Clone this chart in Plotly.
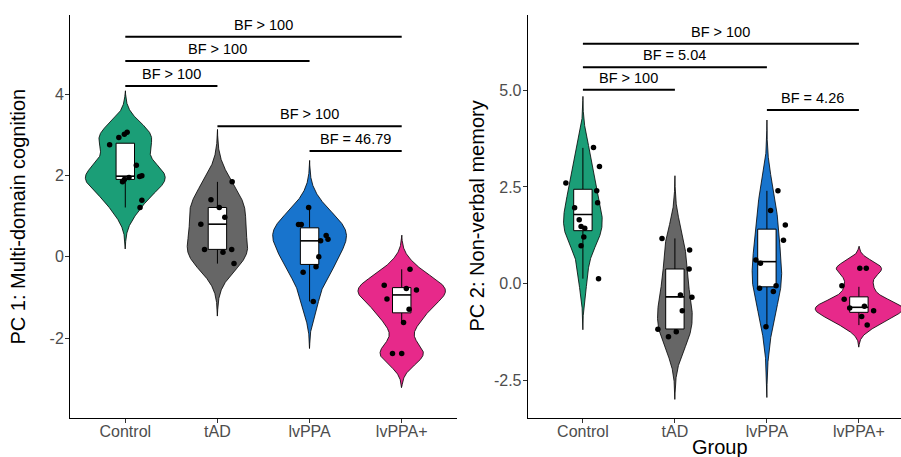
import numpy as np
import plotly.graph_objects as go

groups = ["Control", "tAD", "lvPPA", "lvPPA+"]
group_pos = [1, 2, 3, 4]
group_colors = ["#1B9E77", "#666666", "#1874CD", "#E7298A"]

# ---------------- PC 1: Multi-domain cognition ----------------
pc1_control = [2.75, 2.93, 3.01, 3.06, 2.25, 1.99, 1.97, 1.95, 1.90, 1.84, 1.39, 1.21]
pc1_tad = [1.84, 1.40, 1.21, 0.97, 0.80, 0.18, 0.11, 0.18, -0.17]
pc1_lvppa = [1.21, 0.79, 0.79, 0.52, 0.43, 0.39, 0.00, -0.25, -0.38, -1.10]
pc1_lvppa_plus = [-0.31, -0.70, -0.78, -0.82, -1.04, -1.29, -1.62, -2.38, -2.38]

pc1_control_jit = [-0.17, -0.07, -0.01, 0.02, 0.12, 0.18, 0.155, 0.04, -0.01, -0.03, 0.18, 0.16]
pc1_tad_jit = [0.16, -0.07, 0.02, 0.08, -0.18, -0.14, 0.06, 0.155, 0.18]
pc1_lvppa_jit = [-0.01, -0.12, -0.09, 0.18, 0.20, 0.12, 0.10, 0.07, -0.07, 0.04]
pc1_lvppa_plus_jit = [0.09, -0.19, 0.05, 0.16, -0.16, 0.08, 0.02, -0.10, 0.0]

pc1_box_low = [1.21, -0.17, -1.10, -1.62]
pc1_box_q1 = [1.90, 0.18, -0.19, -1.38]
pc1_box_med = [1.98, 0.80, 0.39, -0.94]
pc1_box_q3 = [2.79, 1.21, 0.71, -0.76]
pc1_box_high = [2.79, 1.84, 1.21, -0.31]

pc1_bw = [0.34, 0.43, 0.386, 0.28]

pc1_comp_from = [1, 1, 1, 2, 3]
pc1_comp_to = [2, 3, 4, 4, 4]
pc1_comp_y = [4.20, 4.81, 5.41, 3.21, 2.60]
pc1_comp_label = ["BF > 100", "BF > 100", "BF > 100", "BF > 100", "BF = 46.79"]

# ---------------- PC 2: Non-verbal memory ----------------
pc2_control = [3.52, 3.03, 2.60, 2.40, 2.09, 1.96, 1.65, 1.48, 1.43, 1.21, 0.98, 0.13]
pc2_tad = [1.17, 0.87, 0.38, -0.29, -0.35, -0.70, -1.18, -1.37, -1.24]
pc2_lvppa = [2.40, 1.89, 1.52, 1.12, 0.61, 0.53, -0.12, -0.20, -0.05, -1.11]
pc2_lvppa_plus = [0.40, 0.40, -0.05, -0.40, -0.63, -0.58, -0.70, -0.85, -1.07]

pc2_control_jit = [0.115, 0.18, -0.185, 0.15, 0.16, -0.09, -0.04, -0.02, 0.02, 0.01, -0.02, 0.17]
pc2_tad_jit = [-0.14, 0.16, 0.155, 0.06, 0.185, 0.08, -0.185, -0.07, 0.015]
pc2_lvppa_jit = [0.12, 0.04, 0.20, 0.18, -0.12, -0.07, -0.08, 0.07, 0.10, -0.01]
pc2_lvppa_plus_jit = [0.01, 0.08, -0.185, -0.16, -0.10, 0.06, 0.16, 0.03, 0.09]

pc2_box_low = [0.13, -1.30, -1.11, -1.07]
pc2_box_q1 = [1.37, -1.17, -0.08, -0.74]
pc2_box_med = [1.79, -0.34, 0.57, -0.61]
pc2_box_q3 = [2.44, 0.38, 1.41, -0.34]
pc2_box_high = [3.51, 1.17, 2.40, -0.08]

pc2_bw = [0.44, 0.54, 0.61, 0.19]

pc2_comp_from = [1, 1, 1, 3]
pc2_comp_to = [2, 3, 4, 4]
pc2_comp_y = [5.01, 5.59, 6.20, 4.49]
pc2_comp_label = ["BF > 100", "BF = 5.04", "BF > 100", "BF = 4.26"]

FONT = "Liberation Sans, Arial, Helvetica, sans-serif"
W, H = 901, 457
VIOLIN_WIDTH = 0.95
BOX_WIDTH = 0.2

fig = go.Figure()


def kde(vals, bw, n=512):
    v = np.asarray(vals, dtype=float)
    grid = np.linspace(v.min() - 3 * bw, v.max() + 3 * bw, n)
    z = (grid[:, None] - v[None, :]) / bw
    dens = np.exp(-0.5 * z ** 2).sum(axis=1) / (len(v) * bw * np.sqrt(2 * np.pi))
    return grid, dens


def add_panel(values, jitters, bws, box_stats, comps, xa, ya):
    low, q1, med, q3, high = box_stats
    dens_list = [kde(vals, bw) for vals, bw in zip(values, bws)]
    dmax = max(d.max() for _, d in dens_list)   # scale = "area" across the panel
    for i, (grid, dens) in enumerate(dens_list):
        p = group_pos[i]
        hw = dens / dmax * VIOLIN_WIDTH / 2
        xs = np.concatenate([p - hw, (p + hw)[::-1], [p - hw[0]]])
        ys = np.concatenate([grid, grid[::-1], [grid[0]]])
        fig.add_trace(go.Scatter(
            x=xs, y=ys, xaxis=xa, yaxis=ya, mode="lines", fill="toself",
            fillcolor=group_colors[i], line=dict(color="black", width=0.8),
            showlegend=False, hoverinfo="skip",
        ))
    hb = BOX_WIDTH / 2
    for i, p in enumerate(group_pos):
        # whiskers
        fig.add_trace(go.Scatter(
            x=[p, p, None, p, p], y=[low[i], q1[i], None, q3[i], high[i]],
            xaxis=xa, yaxis=ya, mode="lines", line=dict(color="black", width=1),
            showlegend=False, hoverinfo="skip",
        ))
        # box
        fig.add_trace(go.Scatter(
            x=[p - hb, p + hb, p + hb, p - hb, p - hb],
            y=[q1[i], q1[i], q3[i], q3[i], q1[i]],
            xaxis=xa, yaxis=ya, mode="lines", fill="toself", fillcolor="white",
            line=dict(color="black", width=1), showlegend=False, hoverinfo="skip",
        ))
        # median
        fig.add_trace(go.Scatter(
            x=[p - hb, p + hb], y=[med[i], med[i]], xaxis=xa, yaxis=ya, mode="lines",
            line=dict(color="black", width=1.6), showlegend=False, hoverinfo="skip",
        ))
    for i, (vals, jit) in enumerate(zip(values, jitters)):
        fig.add_trace(go.Scatter(
            x=[group_pos[i] + j for j in jit], y=vals, xaxis=xa, yaxis=ya,
            mode="markers", marker=dict(color="black", size=5.5),
            showlegend=False, hoverinfo="skip",
        ))
    c_from, c_to, c_y, c_lab = comps
    for a, b, yv, lab in zip(c_from, c_to, c_y, c_lab):
        fig.add_trace(go.Scatter(
            x=[a, b], y=[yv, yv], xaxis=xa, yaxis=ya, mode="lines",
            line=dict(color="black", width=2), showlegend=False, hoverinfo="skip",
        ))
        fig.add_annotation(
            x=(a + b) / 2, y=yv, xref=xa, yref=ya, text=lab, showarrow=False,
            yanchor="middle", yshift=12, font=dict(family=FONT, size=14.5, color="black"),
        )


add_panel([pc1_control, pc1_tad, pc1_lvppa, pc1_lvppa_plus],
          [pc1_control_jit, pc1_tad_jit, pc1_lvppa_jit, pc1_lvppa_plus_jit],
          pc1_bw, (pc1_box_low, pc1_box_q1, pc1_box_med, pc1_box_q3, pc1_box_high),
          (pc1_comp_from, pc1_comp_to, pc1_comp_y, pc1_comp_label), "x", "y")
add_panel([pc2_control, pc2_tad, pc2_lvppa, pc2_lvppa_plus],
          [pc2_control_jit, pc2_tad_jit, pc2_lvppa_jit, pc2_lvppa_plus_jit],
          pc2_bw, (pc2_box_low, pc2_box_q1, pc2_box_med, pc2_box_q3, pc2_box_high),
          (pc2_comp_from, pc2_comp_to, pc2_comp_y, pc2_comp_label), "x2", "y2")

ydom = [(H - 418) / H, (H - 15) / H]
axis_common = dict(
    showgrid=False, zeroline=False, showline=True, linecolor="black", linewidth=1,
    ticks="outside", ticklen=4, tickwidth=1, tickcolor="#333333",
    tickfont=dict(family=FONT, size=16, color="#4D4D4D"), mirror=False,
)
xaxis_common = dict(ticklabelstandoff=-5, **axis_common)
yaxis_common = dict(ticklabelstandoff=-2, **axis_common)

fig.update_layout(
    width=W, height=H, margin=dict(l=0, r=0, t=0, b=0),
    paper_bgcolor="white", plot_bgcolor="white", showlegend=False,
    xaxis=dict(domain=[70 / W, 457 / W], range=[0.4, 4.6], tickvals=group_pos,
               ticktext=groups, anchor="y", **xaxis_common),
    yaxis=dict(domain=ydom, range=[-3.966, 5.943], tickvals=[-2, 0, 2, 4],
               ticktext=["-2", "0", "2", "4"], anchor="x", **yaxis_common),
    xaxis2=dict(domain=[527.7 / W, 1.0], range=[0.4, 0.4 + (W - 527.7) / 92.0],
                tickvals=group_pos, ticktext=groups, anchor="y2", **xaxis_common),
    yaxis2=dict(domain=ydom, range=[-3.47, 6.943], tickvals=[-2.5, 0, 2.5, 5],
                ticktext=["-2.5", "0.0", "2.5", "5.0"], anchor="x2", **yaxis_common),
)

fig.add_annotation(x=18 / W, y=1 - 216.5 / H, xref="paper", yref="paper",
                   text="PC 1: Multi-domain cognition", textangle=-90, showarrow=False,
                   xanchor="center", yanchor="middle",
                   font=dict(family=FONT, size=20, color="black"))
fig.add_annotation(x=477 / W, y=1 - 216.5 / H, xref="paper", yref="paper",
                   text="PC 2: Non-verbal memory", textangle=-90, showarrow=False,
                   xanchor="center", yanchor="middle",
                   font=dict(family=FONT, size=20, color="black"))
fig.add_annotation(x=720 / W, y=1 - 447 / H, xref="paper", yref="paper",
                   text="Group", showarrow=False, xanchor="center", yanchor="middle",
                   font=dict(family=FONT, size=20, color="black"))

fig.write_html("out.html", config={"displayModeBar": False},
               post_script="document.body.style.margin='0';")
